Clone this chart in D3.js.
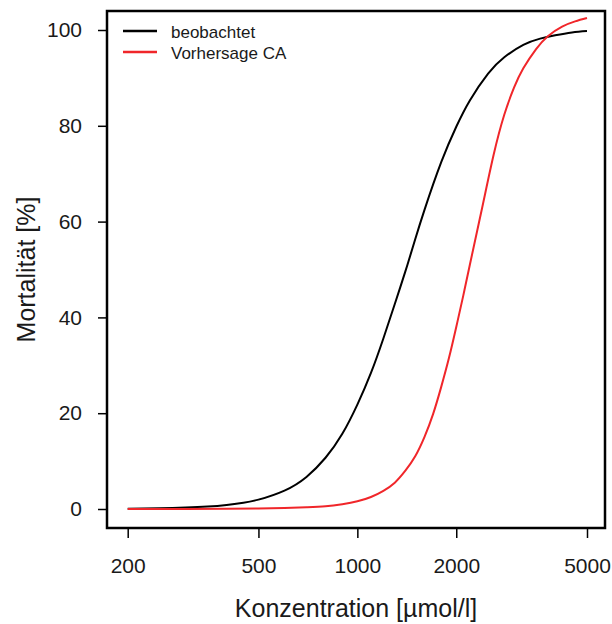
<!DOCTYPE html>
<html>
<head>
<meta charset="utf-8">
<script src="https://cdn.jsdelivr.net/npm/d3@7"></script>
<style>
  html, body { margin: 0; padding: 0; background: #fff; }
  svg text { font-family: "Liberation Sans", Arial, Helvetica, sans-serif; fill: #1a1a1a; }
</style>
</head>
<body>
<svg id="chart" width="612" height="624"></svg>
<script>
// Concentration grid [µmol/l] and mortality [%] for the observed curve
const obsConc = [200, 250, 300, 350, 400, 450, 500, 600, 700, 800, 900, 1000, 1100, 1200,
                 1300, 1400, 1500, 1600, 1800, 2000, 2200, 2500, 2800, 3200, 3600, 4000, 4500, 5000];
const obsMort = [0.06, 0.14, 0.29, 0.51, 0.85, 1.3, 1.95, 3.85, 6.7, 10.7, 15.7, 21.8, 28.4, 35.6,
                 42.8, 49.6, 56.3, 62.4, 72.4, 79.8, 85.3, 90.9, 94.3, 96.9, 98.2, 98.9, 99.5, 99.8];

// Concentration addition (CA) prediction
const caConc = [200, 300, 400, 500, 600, 700, 800, 900, 1000, 1100, 1200, 1300, 1400, 1500, 1600,
                1700, 1800, 1900, 2000, 2100, 2200, 2400, 2600, 2800, 3000, 3200, 3500, 3800, 4200, 4600, 5000];
const caMort = [0.0, 0.0, 0.05, 0.1, 0.2, 0.35, 0.55, 1.0, 1.6, 2.5, 3.8, 5.5, 8.0, 11.0, 15.0,
                19.8, 25.5, 31.5, 38.0, 44.5, 51.0, 63.0, 74.0, 82.3, 88.0, 92.0, 96.0, 98.7, 100.7, 101.8, 102.5];

const xTicks = [200, 500, 1000, 2000, 5000];
const yTicks = [0, 20, 40, 60, 80, 100];

const seriesNames = ["beobachtet", "Vorhersage CA"];
const seriesColors = ["#000000", "#f0262a"];

const svg = d3.select("#chart");

// Plot frame
const frame = { left: 107, right: 605, top: 11, bottom: 528 };

const x = d3.scaleLog().domain([200, 5000]).range([127.7, 587]);
const y = d3.scaleLinear().domain([0, 100]).range([509, 30]);

// Axes
const xAxis = d3.axisBottom(x).tickValues(xTicks).tickFormat(d3.format("d"))
  .tickSizeInner(10).tickSizeOuter(0).tickPadding(20);
const gx = svg.append("g").attr("transform", `translate(0,${frame.bottom})`).call(xAxis);
gx.select(".domain").remove();
gx.selectAll(".tick line").attr("stroke", "#000").attr("stroke-width", 1.5);
gx.selectAll(".tick text").attr("font-size", 21).attr("fill", "#1a1a1a");

const yAxis = d3.axisLeft(y).tickValues(yTicks).tickFormat(d3.format("d"))
  .tickSizeInner(9).tickSizeOuter(0).tickPadding(16);
const gy = svg.append("g").attr("transform", `translate(${frame.left},0)`).call(yAxis);
gy.select(".domain").remove();
gy.selectAll(".tick line").attr("stroke", "#000").attr("stroke-width", 1.5);
gy.selectAll(".tick text").attr("font-size", 21).attr("fill", "#1a1a1a");

// Curves
const line = d3.line()
  .x(d => x(d[0]))
  .y(d => y(d[1]))
  .curve(d3.curveNatural);

const series = [
  d3.zip(obsConc, obsMort),
  d3.zip(caConc, caMort)
];

svg.append("g")
  .selectAll("path")
  .data(series)
  .join("path")
  .attr("d", line)
  .attr("fill", "none")
  .attr("stroke", (d, i) => seriesColors[i])
  .attr("stroke-width", 2);

// Box around the plotting region
svg.append("rect")
  .attr("x", frame.left)
  .attr("y", frame.top)
  .attr("width", frame.right - frame.left)
  .attr("height", frame.bottom - frame.top)
  .attr("fill", "none")
  .attr("stroke", "#000")
  .attr("stroke-width", 2.5);

// Legend
const legend = svg.append("g");
seriesNames.forEach((name, i) => {
  const ly = 31 + i * 21;
  legend.append("line")
    .attr("x1", 123).attr("x2", 157)
    .attr("y1", ly).attr("y2", ly)
    .attr("stroke", seriesColors[i])
    .attr("stroke-width", 2.5);
  legend.append("text")
    .attr("x", 171)
    .attr("y", ly + 6.5)
    .attr("font-size", 17)
    .text(name);
});

// Axis titles
svg.append("text")
  .attr("x", (frame.left + frame.right) / 2)
  .attr("y", 617)
  .attr("text-anchor", "middle")
  .attr("font-size", 25)
  .text("Konzentration [µmol/l]");

svg.append("text")
  .attr("transform", `translate(35,${(frame.top + frame.bottom) / 2}) rotate(-90)`)
  .attr("text-anchor", "middle")
  .attr("font-size", 25)
  .text("Mortalität [%]");
</script>
</body>
</html>
